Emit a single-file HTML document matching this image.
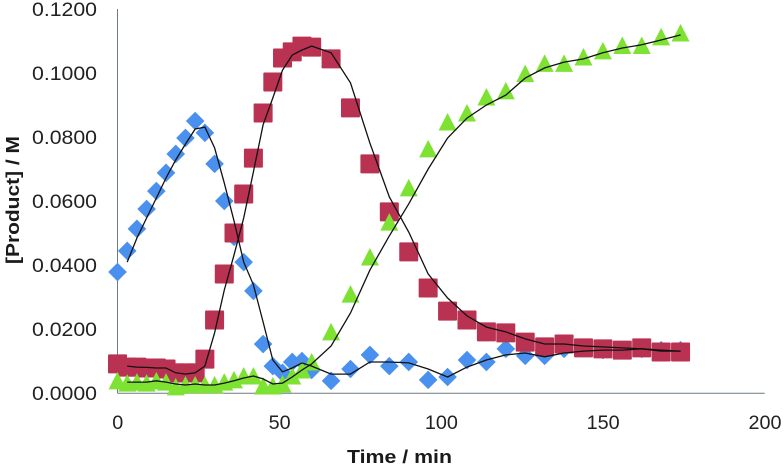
<!DOCTYPE html>
<html>
<head>
<meta charset="utf-8">
<title>Product concentration vs time</title>
<style>
html,body{margin:0;padding:0;background:#fff;width:784px;height:468px;overflow:hidden}
svg{display:block}
text{font-family:"Liberation Sans",sans-serif}
</style>
</head>
<body>
<svg id="chart" xmlns="http://www.w3.org/2000/svg" width="784" height="468" viewBox="0 0 784 468">
<rect x="0" y="0" width="784" height="468" fill="#ffffff"/>
<g id="axes"></g>
<g id="marks"></g>
<text x="347" y="463" font-size="18" font-weight="bold" fill="#1a1a1a" textLength="105" lengthAdjust="spacingAndGlyphs">Time / min</text>
<text transform="translate(19,264) rotate(-90)" x="0" y="0" font-size="18" font-weight="bold" fill="#1a1a1a" textLength="128" lengthAdjust="spacingAndGlyphs">[Product] / M</text>
</svg>
<script>
const times = [0,3,6,9,12,15,18,21,24,27,30,33,36,39,42,45,48,51,54,57,60,66,72,78,84,90,96,102,108,114,120,126,132,138,144,150,156,162,168,174];
const lineTimes = [3,6,9,12,15,18,21,24,27,30,33,36,39,42,45,48,51,54,57,60,66,72,78,84,90,96,102,108,114,120,126,132,138,144,150,156,162,168,174];
const blueValues = [.0378,.0444,.0513,.0575,.0631,.0688,.0747,.0797,.0850,.0813,.0716,.0600,.0488,.0409,.0319,.0153,.0084,.0063,.0097,.0100,.0072,.0038,.0075,.0119,.0084,.0097,.0041,.0050,.0103,.0097,.0138,.0116,.0116,.0138,.0141,.0134,.0134,.0138,.0134,.0134];
const redValues = [.0091,.0081,.0081,.0078,.0078,.0075,.0063,.0063,.0063,.0106,.0228,.0372,.0500,.0622,.0734,.0875,.0972,.1047,.1066,.1084,.1081,.1044,.0891,.0716,.0566,.0441,.0328,.0256,.0228,.0191,.0188,.0159,.0144,.0153,.0141,.0138,.0134,.0141,.0128,.0128];
const greenValues = [.0038,.0031,.0034,.0031,.0038,.0034,.0019,.0025,.0025,.0025,.0025,.0034,.0041,.0053,.0053,.0022,.0022,.0028,.0053,.0072,.0097,.0191,.0309,.0425,.0534,.0641,.0763,.0847,.0875,.0925,.0944,.0998,.1030,.1030,.1050,.1069,.1086,.1086,.1113,.1125];
const blueLine = [.0409,.0484,.0547,.0609,.0672,.0728,.0778,.0825,.0831,.0766,.0656,.0538,.0409,.0338,.0222,.0103,.0066,.0078,.0094,.0084,.0059,.0059,.0097,.0097,.0094,.0075,.0050,.0081,.0103,.0119,.0125,.0113,.0125,.0131,.0134,.0134,.0138,.0131,.0131];
const redLine = [.0084,.0081,.0080,.0078,.0078,.0063,.0059,.0063,.0084,.0188,.0322,.0431,.0547,.0691,.0838,.0922,.1009,.1056,.1072,.1084,.1063,.0969,.0781,.0613,.0503,.0372,.0297,.0241,.0206,.0191,.0169,.0153,.0153,.0147,.0144,.0141,.0138,.0134,.0131];
const greenLine = [.0034,.0034,.0034,.0038,.0034,.0028,.0025,.0028,.0025,.0025,.0031,.0038,.0047,.0053,.0044,.0028,.0031,.0050,.0072,.0091,.0147,.0250,.0384,.0491,.0591,.0700,.0797,.0859,.0900,.0931,.0984,.1016,.1034,.1044,.1063,.1078,.1088,.1103,.1119];
const xTicks = [0,50,100,150,200];
const yTicks = [0,0.02,0.04,0.06,0.08,0.10,0.12];

const NS = 'http://www.w3.org/2000/svg';
const xScale = t => 117.5 + t * (764.7 - 117.5) / 200;
const yScale = v => 393 - v * 3200;
const axes = document.getElementById('axes');
const marks = document.getElementById('marks');

function make(tag, attrs, parent) {
  const el = document.createElementNS(NS, tag);
  Object.keys(attrs).forEach(k => el.setAttribute(k, attrs[k]));
  parent.appendChild(el);
  return el;
}

const yAxis = make('line', {x1: xScale(0), x2: xScale(0), y1: yScale(0.12), y2: yScale(0), stroke: '#6b7a84', 'stroke-width': 1}, axes);


const xAxis = make('line', {x1: xScale(0), x2: xScale(200), y1: yScale(0) + 0.3, y2: yScale(0) + 0.3, stroke: '#6b7a84', 'stroke-width': 1}, axes);



yTicks.forEach(v => {
  const label = make('text', {x: 32, y: yScale(v) + 7, 'font-size': 19, fill: '#222', textLength: 65, lengthAdjust: 'spacingAndGlyphs'}, axes);
  label.textContent = v.toFixed(4);
  
  
});
xTicks.forEach(t => {
  const s = String(t);
  const w = s.length * 11;
  const label = make('text', {x: xScale(t) - w / 2 + 0.3, y: 429, 'font-size': 19, fill: '#222', textLength: w, lengthAdjust: 'spacingAndGlyphs'}, axes);
  label.textContent = s;
  
  
});

function diamondPts(x, y) {
  return [[x, y - 9.3], [x + 9.3, y], [x, y + 9.3], [x - 9.3, y]].map(p => p.join(',')).join(' ');
}
function trianglePts(x, y) {
  return [[x, y - 9], [x + 9, y + 8.5], [x - 9, y + 8.5]].map(p => p.join(',')).join(' ');
}

times.forEach((t, i) => {
  const m = make('polygon', {points: diamondPts(xScale(t), yScale(blueValues[i])), fill: '#4a90ee'}, marks);
  
  
});
times.forEach((t, i) => {
  const m = make('rect', {x: xScale(t) - 9.5, y: yScale(redValues[i]) - 9.5, width: 19, height: 19, rx: 1, fill: '#b93252'}, marks);
  
  
});
times.forEach((t, i) => {
  const m = make('polygon', {points: trianglePts(xScale(t), yScale(greenValues[i])), fill: '#7ee233'}, marks);
  
  
});

function linePoints(values) {
  return lineTimes.map((t, i) => xScale(t).toFixed(1) + ',' + yScale(values[i]).toFixed(1)).join(' ');
}
const blueTrend = make('polyline', {points: linePoints(blueLine), fill: 'none', stroke: '#111', 'stroke-width': 1.3}, marks);


const redTrend = make('polyline', {points: linePoints(redLine), fill: 'none', stroke: '#111', 'stroke-width': 1.3}, marks);


const greenTrend = make('polyline', {points: linePoints(greenLine), fill: 'none', stroke: '#111', 'stroke-width': 1.3}, marks);


</script>
</body>
</html>
